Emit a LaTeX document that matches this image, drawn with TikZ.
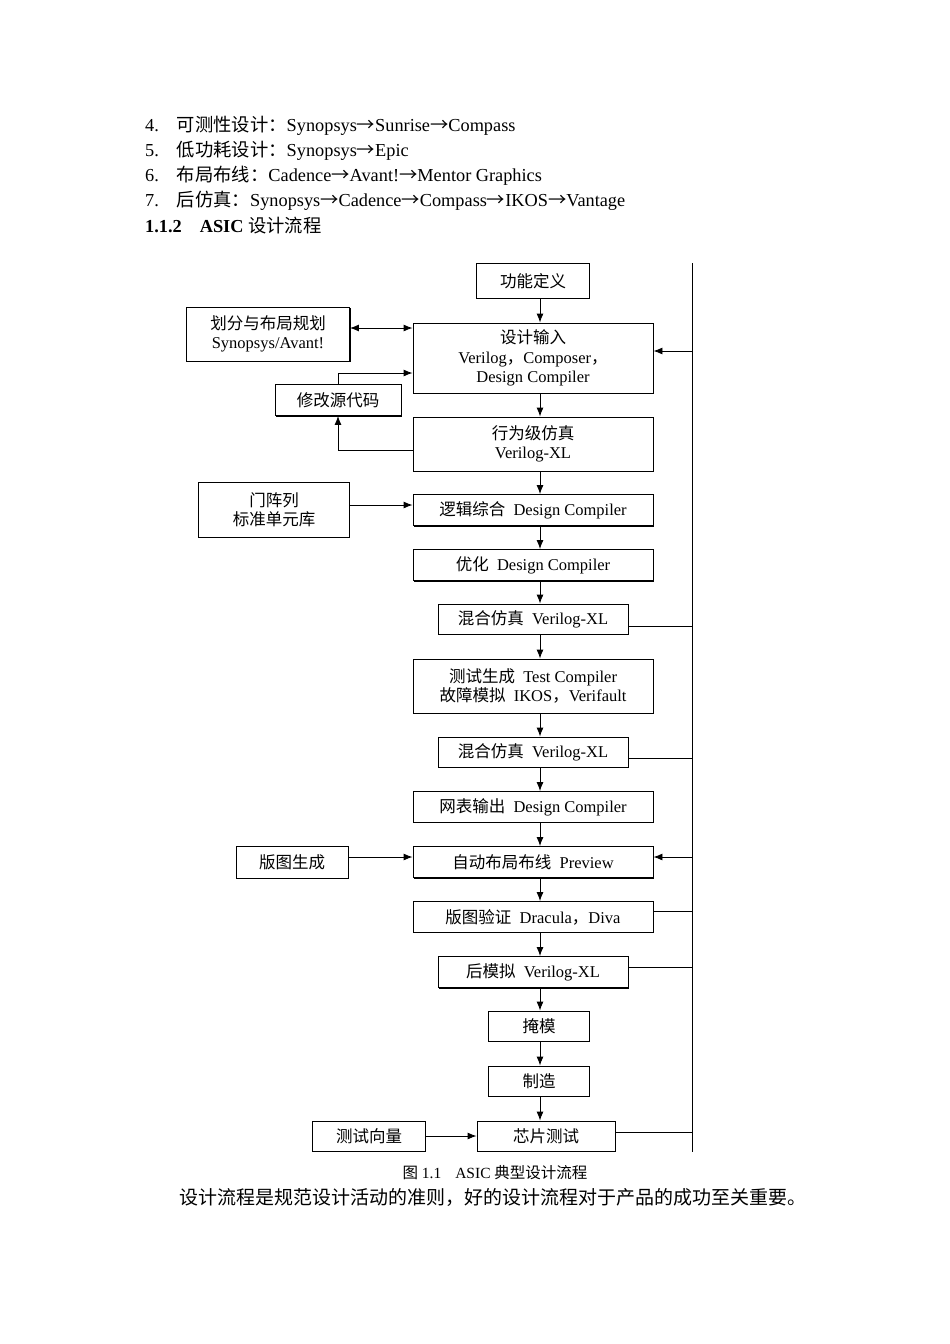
\documentclass[tikz,border=0pt]{standalone}
\usepackage{fontspec}
\setmainfont{Liberation Serif}
\newfontfamily\cjk{Noto Sans CJK SC}
\newcommand{\zh}[1]{{\cjk #1}}
\usetikzlibrary{shadows, positioning, arrows.meta}
\begin{document}
\begin{tikzpicture}[x=1pt, y=-1pt, >={Latex[length=9pt, width=7pt]},
  box/.style={draw, line width=0.9pt, fill=white, align=center, inner sep=0pt, font=\fontsize{16.5}{19.5}\selectfont},
  sbox/.style={box, general shadow={fill=black, shadow xshift=1.4pt, shadow yshift=-1.4pt}},
  line/.style={line width=0.9pt},
  txt/.style={anchor=west, inner sep=0pt, font=\fontsize{18.3}{21}\selectfont}]
\useasboundingbox (0,0) rectangle (950,1344);
% text above the figure
\node[txt] (l4) at (145,126) {4.\hspace{18pt}\zh{可测性设计：}Synopsys\zh{→}Sunrise\zh{→}Compass};
\node[txt] (l5) at (145,151) {5.\hspace{18pt}\zh{低功耗设计：}Synopsys\zh{→}Epic};
\node[txt] (l6) at (145,176) {6.\hspace{18pt}\zh{布局布线：}Cadence\zh{→}Avant!\zh{→}Mentor Graphics};
\node[txt] (l7) at (145,201) {7.\hspace{18pt}\zh{后仿真：}Synopsys\zh{→}Cadence\zh{→}Compass\zh{→}IKOS\zh{→}Vantage};
\node[txt] (h2) at (145,226) {\textbf{1.1.2}\hspace{18pt}\textbf{ASIC} \zh{设计流程}};
% main flow
\node[box, minimum width=113pt, minimum height=35pt] (spec) at (533,281) {\zh{功能定义}};
\node[sbox, minimum width=240pt, minimum height=70pt] (entry) at (533,358) {\zh{设计输入}\\Verilog\zh{，}Composer\zh{，}\\Design Compiler};
\node[sbox, minimum width=240pt, minimum height=54pt] (behav) at (533,444) {\zh{行为级仿真}\\Verilog-XL};
\node[sbox, minimum width=240pt, minimum height=31pt] (synth) at (533,510) {\zh{逻辑综合}\ \ Design Compiler};
\node[sbox, minimum width=240pt, minimum height=31pt] (opt) at (533,565) {\zh{优化}\ \ Design Compiler};
\node[box, minimum width=190pt, minimum height=30pt] (msim) at (533,619) {\zh{混合仿真}\ \ Verilog-XL};
\node[sbox, minimum width=240pt, minimum height=54pt] (test) at (533,686) {\zh{测试生成}\ \ Test Compiler\\\zh{故障模拟}\ \ IKOS\zh{，}Verifault};
\node[box, minimum width=190pt, minimum height=30pt] (msim2) at (533,752) {\zh{混合仿真}\ \ Verilog-XL};
\node[box, minimum width=240pt, minimum height=31pt] (net) at (533,807) {\zh{网表输出}\ \ Design Compiler};
\node[sbox, minimum width=240pt, minimum height=31pt] (pr) at (533,862) {\zh{自动布局布线}\ \ Preview};
\node[box, minimum width=240pt, minimum height=31pt] (drc) at (533,917) {\zh{版图验证}\ \ Dracula\zh{，}Diva};
\node[sbox, minimum width=190pt, minimum height=31pt] (post) at (533,972) {\zh{后模拟}\ \ Verilog-XL};
\node[box, minimum width=101pt, minimum height=30pt] (mask) at (539,1026) {\zh{掩模}};
\node[box, minimum width=101pt, minimum height=30pt] (fab) at (539,1081) {\zh{制造}};
\node[box, minimum width=138pt, minimum height=30pt] (chip) at (546,1136) {\zh{芯片测试}};
% side boxes
\node[sbox, minimum width=163pt, minimum height=54pt] (plan) at (268,334) {\zh{划分与布局规划}\\Synopsys/Avant!};
\node[sbox, minimum width=126pt, minimum height=31pt] (edit) at (338,400) {\zh{修改源代码}};
\node[box, minimum width=151pt, minimum height=55pt] (lib) at (274,510) {\zh{门阵列}\\\zh{标准单元库}};
\node[box, minimum width=112pt, minimum height=32pt] (layout) at (292,862) {\zh{版图生成}};
\node[box, minimum width=113pt, minimum height=30pt] (vec) at (369,1136) {\zh{测试向量}};
% arrows down the flow
\foreach \a/\b in {spec/entry, entry/behav, behav/synth, synth/opt, opt/msim, msim/test,
  test/msim2, msim2/net, net/pr, pr/drc, drc/post, post/mask, mask/fab, fab/chip}
  \draw[line, ->] (\a.south -| 540,0) -- (\b.north -| 540,0);
% side arrows
\draw[line, <->] (plan.east |- 0,328) -- (entry.west |- 0,328);
\draw[line, ->] (behav.west |- 0,450) -| (edit.south);
\draw[line, ->] (edit.north) |- (entry.west |- 0,373);
\draw[line, ->] (lib.east |- 0,505) -- (synth.west |- 0,505);
\draw[line, ->] (layout.east |- 0,857) -- (pr.west |- 0,857);
\draw[line, ->] (vec) -- (chip);
% feedback rail
\coordinate (top) at (692,263);
\coordinate (bot) at (692,1152);
\draw[line] (top) -- (bot);
\draw[line, ->] (692,351) -- (entry.east |- 0,351);
\draw[line, ->] (692,857) -- (pr.east |- 0,857);
\foreach \n/\y in {msim/626, msim2/758, drc/911, post/967, chip/1132}
  \draw[line] (\n.east |- 0,\y) -- (692,\y);
% caption
\node[inner sep=0pt, font=\fontsize{15.5}{18}\selectfont] (cap) at (495,1173) {\zh{图} 1.1\hspace{14pt}ASIC \zh{典型设计流程}};
\node[inner sep=0pt, font=\fontsize{19}{22}\selectfont] (para) at (493,1197) {\zh{设计流程是规范设计活动的准则，好的设计流程对于产品的成功至关重要。}};
\end{tikzpicture}
\end{document}
